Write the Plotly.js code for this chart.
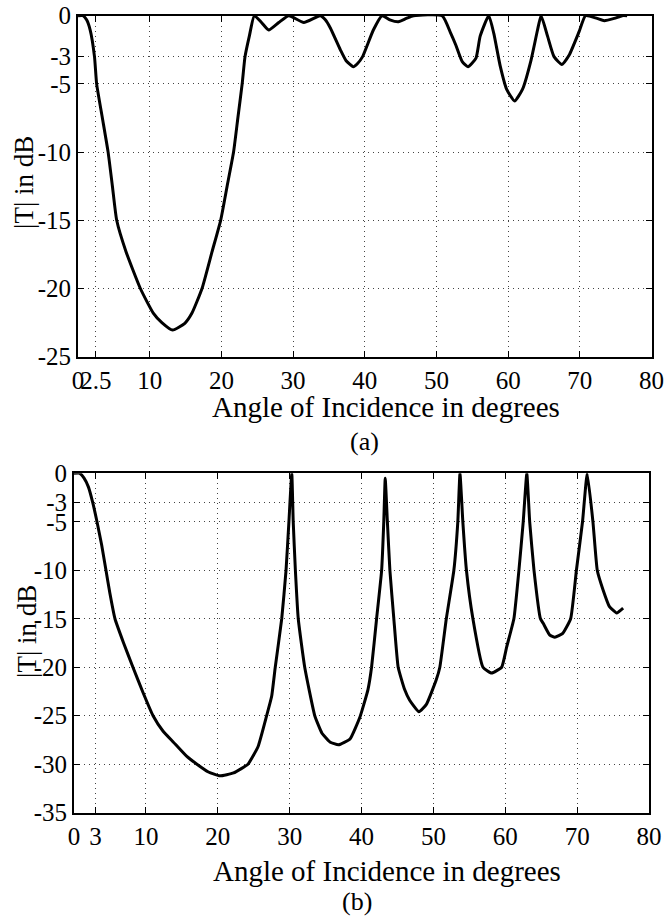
<!DOCTYPE html>
<html>
<head>
<meta charset="utf-8">
<script src="https://cdn.plot.ly/plotly-3.0.1.min.js"></script>
<style>
html,body{margin:0;padding:0;background:#fff;}
#chart{width:671px;height:917px;}
</style>
</head>
<body>
<div id="chart"></div>
<script>
// ---- Data: (a) ----
const angleA = [0, 0.7, 1.2, 1.7, 2.3, 2.6, 3.4, 4.2, 4.8, 5.4, 6.7, 8.7, 10.5, 11.7, 13.2, 14.9, 15.9, 17.3, 18.7, 19.9, 20.8, 21.7, 22.3, 22.9, 23.3, 23.9, 24.6,
  25.6, 26.6, 28.0, 29.4, 31.5, 33.8, 34.5, 35.2, 36.6, 37.4, 38.4, 39.0, 39.7, 41.2, 42.4, 43.5, 44.7, 45.8, 46.8, 50.8,
  52.0, 52.7, 53.6, 54.4, 55.5, 56.1, 57.3, 58.0, 58.9, 59.8, 60.9, 62.0, 63.2, 64.1, 64.6,
  65.5, 66.4, 67.5, 68.5, 69.9, 70.8, 72.4, 73.4, 74.8, 75.9, 76.6];
const dbA = [0, 0, -0.3, -1.05, -3, -5, -7.5, -10, -12.5, -15, -17.3, -20, -21.8, -22.5, -23.05, -22.55, -21.8, -20, -17.3, -15, -12.5, -10, -7.5, -5, -3, -1.5, 0,
  -0.5, -1.05, -0.5, 0, -0.5, 0, -0.3, -0.9, -2.5, -3.3, -3.74, -3.5, -3, -1.05, 0, -0.3, -0.44, -0.2, 0, 0,
  -1.3, -2.15, -3.37, -3.74, -3.13, -1.5, 0, -1.3, -3.7, -5.4, -6.25, -5.4, -3.25, -1.05, 0,
  -1.5, -3.0, -3.57, -2.9, -1.17, 0, -0.2, -0.37, -0.2, 0, 0];

// ---- Data: (b) ----
const angleB = [0, 0.8, 1.4, 2.0, 2.6, 3.2, 3.85, 4.45, 5.0, 5.7, 6.9, 8.2, 9.6, 11.0, 12.4, 13.8, 15.7, 17.1, 18.7, 20.3, 22.2, 24.2, 25.6, 26.8, 27.5, 28.0, 28.9, 29.5, 29.9, 30.3,
  30.5, 30.8, 31.2, 32.1, 33.5, 34.5, 35.6, 36.8, 38.4, 39.8, 40.9, 41.4, 42.1, 42.8, 43.1, 43.3,
  43.6, 43.95, 44.5, 45.1, 46.0, 46.7, 48.0, 49.05, 50.4, 50.9, 51.8, 52.85, 53.4, 53.7,
  54.1, 54.6, 55.5, 56.9, 58.1, 59.5, 60.2, 61.2, 61.9, 62.5, 63.0,
  63.4, 64.0, 64.9, 65.3, 66.2, 66.9, 68.0, 69.1, 69.9, 70.75, 71.4,
  72.2, 72.8, 73.6, 74.5, 75.5, 76.4];
const dbB = [0, 0, -0.5, -1.4, -3, -5, -7.4, -10, -12.4, -15, -17.5, -20, -22.6, -25, -26.6, -27.7, -29.2, -30, -30.8, -31.2, -30.9, -30, -28.2, -25, -23, -20, -15, -10, -5, 0,
  -5, -10, -15, -20, -25, -26.8, -27.7, -28.0, -27.4, -25.1, -22.3, -20, -15, -10, -5, -0.5,
  -5, -10, -15, -20, -22.3, -23.4, -24.6, -23.8, -21.3, -20, -15, -10, -5, 0,
  -5, -10, -15, -20, -20.6, -20, -17.9, -15, -10, -5, 0,
  -5, -10, -15, -15.5, -16.7, -16.9, -16.5, -15, -10, -5, 0,
  -5, -10, -12.0, -13.75, -14.4, -13.9];

// ---- Ticks & labels ----
const xTicksA = [0, 2.5, 10, 20, 30, 40, 50, 60, 70, 80];
const xTickTextA = ['0', '2.5', '10', '20', '30', '40', '50', '60', '70', '80'];
const yTicksA = [0, -3, -5, -10, -15, -20, -25];
const xTicksB = [0, 3, 10, 20, 30, 40, 50, 60, 70, 80];
const xTickTextB = ['0', '3', '10', '20', '30', '40', '50', '60', '70', '80'];
const yTicksB = [0, -3, -5, -10, -15, -20, -25, -30, -35];
const xTitle = 'Angle of Incidence in degrees';
const yTitle = '|T| in dB';
const panelLabels = ['(a)', '(b)'];

const W = 671, H = 917;
const SERIF = 'Liberation Serif';
const px = v => v / W;
const py = v => 1 - v / H;

function axisCommon() {
  return {
    showline: true, linecolor: '#000', linewidth: 2, mirror: 'ticks',
    ticks: 'inside', ticklen: 6, tickwidth: 1, tickcolor: '#000',
    showgrid: true, gridcolor: '#444', gridwidth: 1, griddash: '1px,4px',
    zeroline: false, tickangle: 0,
    tickfont: {family: SERIF, size: 25, color: '#000'},
    fixedrange: true
  };
}

const traces = [
  {x: angleA, y: dbA, xaxis: 'x', yaxis: 'y', mode: 'lines',
   line: {color: '#000', width: 3, shape: 'spline', smoothing: 0.5}, hoverinfo: 'skip'},
  {x: angleB, y: dbB, xaxis: 'x2', yaxis: 'y2', mode: 'lines',
   line: {color: '#000', width: 3, shape: 'spline', smoothing: 0.4}, hoverinfo: 'skip'}
];

function ann(text, x, y, size, angle) {
  const a = {text: text, xref: 'paper', yref: 'paper', x: px(x), y: py(y), xanchor: 'center', yanchor: 'middle',
             showarrow: false, font: {family: SERIF, size: size, color: '#000'}};
  if (angle) a.textangle = angle;
  return a;
}

const layout = {
  width: W, height: H,
  margin: {l: 0, r: 0, t: 0, b: 0},
  paper_bgcolor: '#fff', plot_bgcolor: '#fff',
  showlegend: false,
  font: {family: SERIF, color: '#000'},
  xaxis: Object.assign(axisCommon(), {domain: [px(78), px(651.5)], range: [0, 80], tickvals: xTicksA, ticktext: xTickTextA, anchor: 'y'}),
  yaxis: Object.assign(axisCommon(), {domain: [py(356.7), py(15.7)], range: [-25, 0], tickvals: yTicksA, ticktext: yTicksA.map(String), anchor: 'x'}),
  xaxis2: Object.assign(axisCommon(), {domain: [px(74), px(649)], range: [0, 80], tickvals: xTicksB, ticktext: xTickTextB, anchor: 'y2'}),
  yaxis2: Object.assign(axisCommon(), {domain: [py(812.7), py(473.3)], range: [-35, 0], tickvals: yTicksB, ticktext: yTicksB.map(String), anchor: 'x2'}),
  annotations: [
    ann(xTitle, 386, 407, 29),
    ann(panelLabels[0], 364.5, 441, 26),
    ann(yTitle, 24, 183, 27, -90),
    ann(xTitle, 387, 871, 29),
    ann(panelLabels[1], 357, 901, 26),
    ann(yTitle, 27, 632, 27, -90)
  ]
};

Plotly.newPlot('chart', traces, layout, {staticPlot: true});
</script>
</body>
</html>
